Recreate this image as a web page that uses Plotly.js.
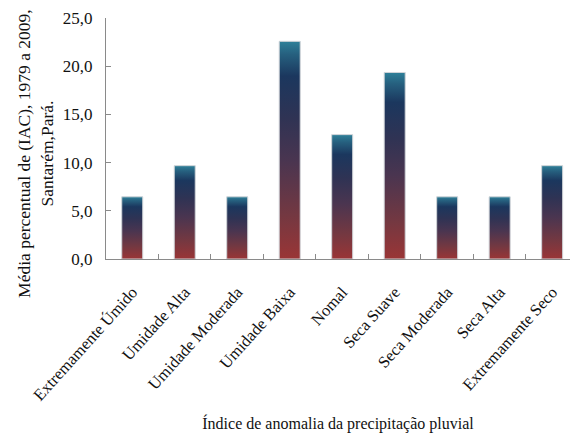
<!DOCTYPE html>
<html>
<head>
<meta charset="utf-8">
<script src="https://cdn.plot.ly/plotly-3.0.1.min.js"></script>
<style>
  html, body { margin: 0; padding: 0; background: #fff; }
  #chart { width: 570px; height: 439px; }
</style>
</head>
<body>
<div id="chart"></div>
<script>
// Data
const categories = [
  "Extremamente Úmido", "Umidade Alta", "Umidade Moderada", "Umidade Baixa",
  "Nomal", "Seca Suave", "Seca Moderada", "Seca Alta", "Extremamente Seco"
];
const values = [6.45, 9.68, 6.45, 22.58, 12.90, 19.35, 6.45, 6.45, 9.68];
const yTicks = [0, 5, 10, 15, 20, 25];
const yTitle = "Média percentual de (IAC), 1979 a 2009,<br>Santarém,Pará.";
const xTitle = "Índice de anomalia da precipitação pluvial";

const FONT = "'Liberation Serif', 'Times New Roman', serif";

const trace = {
  type: "bar",
  x: categories,
  y: values,
  width: 0.4,
  marker: { color: "#4a3550", line: { color: "#d0d4d8", width: 1 } },
  hoverinfo: "skip"
};

const layout = {
  width: 570,
  height: 439,
  margin: { l: 106, r: 0, t: 18, b: 180 },
  paper_bgcolor: "#fff",
  plot_bgcolor: "#fff",
  separators: ",.",
  showlegend: false,
  font: { family: FONT, size: 16, color: "#111" },
  xaxis: {
    type: "category",
    range: [-0.5, 8.34],
    showline: true, linecolor: "#8a8a8a", linewidth: 1,
    ticks: "inside", tickson: "boundaries", ticklen: 5, tickcolor: "#8a8a8a",
    tickangle: -48,
    ticklabelstandoff: 16,
    tickfont: { family: FONT, size: 16.5, color: "#111" },
    showgrid: false, zeroline: false,
    title: { text: xTitle, font: { family: FONT, size: 16, color: "#111" }, standoff: 14 }
  },
  yaxis: {
    range: [0, 25],
    tickvals: yTicks,
    tickformat: ".1f",
    showline: true, linecolor: "#8a8a8a", linewidth: 1,
    ticks: "inside", ticklen: 5, tickcolor: "#8a8a8a",
    ticklabelstandoff: 9,
    tickfont: { family: FONT, size: 17, color: "#111" },
    showgrid: false, zeroline: false
  },
  annotations: [{
    text: yTitle,
    xref: "paper", yref: "paper",
    x: 0, y: 0.436,
    xshift: -70,
    xanchor: "center", yanchor: "middle",
    textangle: -90,
    showarrow: false,
    font: { family: FONT, size: 17.5, color: "#111" }
  }]
};

Plotly.newPlot("chart", [trace], layout, { displayModeBar: false, staticPlot: true }).then(function (gd) {
  const svgNS = "http://www.w3.org/2000/svg";
  const svg = gd.querySelector("svg.main-svg");
  let defs = svg.querySelector("defs");
  if (!defs) { defs = document.createElementNS(svgNS, "defs"); svg.insertBefore(defs, svg.firstChild); }
  const grad = document.createElementNS(svgNS, "linearGradient");
  grad.setAttribute("id", "barGrad");
  grad.setAttribute("x1", "0"); grad.setAttribute("y1", "0");
  grad.setAttribute("x2", "0"); grad.setAttribute("y2", "1");
  const stops = [
    [0.00, "#2f8099"],
    [0.06, "#26607f"],
    [0.16, "#1b375e"],
    [0.35, "#2f3354"],
    [0.55, "#4a3550"],
    [0.80, "#743841"],
    [1.00, "#9a3536"]
  ];
  stops.forEach(function (s) {
    const st = document.createElementNS(svgNS, "stop");
    st.setAttribute("offset", s[0]);
    st.setAttribute("stop-color", s[1]);
    grad.appendChild(st);
  });
  defs.appendChild(grad);
  gd.querySelectorAll(".trace.bars .point path").forEach(function (p) {
    p.style.fill = "url(#barGrad)";
  });
});
</script>
</body>
</html>
